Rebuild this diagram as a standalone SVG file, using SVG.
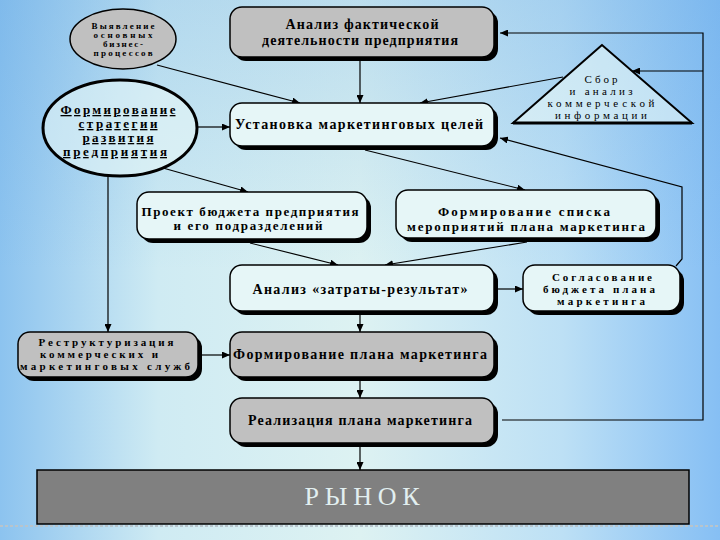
<svg xmlns="http://www.w3.org/2000/svg" width="720" height="540" viewBox="0 0 720 540">
<defs>
<linearGradient id="bg" x1="0" y1="0" x2="1" y2="0">
<stop offset="0" stop-color="#8cc3ef"/>
<stop offset="0.22" stop-color="#cfebf3"/>
<stop offset="0.5" stop-color="#ddf2f2"/>
<stop offset="0.78" stop-color="#bde0f5"/>
<stop offset="1" stop-color="#86bff4"/>
</linearGradient>
<linearGradient id="bgv" x1="0" y1="0" x2="0" y2="1">
<stop offset="0" stop-color="#5aa0e0" stop-opacity="0.25"/>
<stop offset="0.5" stop-color="#5aa0e0" stop-opacity="0"/>
<stop offset="1" stop-color="#5aa0e0" stop-opacity="0"/>
</linearGradient>
<marker id="arr" markerWidth="8" markerHeight="7" refX="8" refY="3.5" orient="auto" markerUnits="userSpaceOnUse">
<path d="M0,0 L8,3.5 L0,7 z" fill="#000"/>
</marker>
<style>
.sh{fill:#000}
.bx{stroke:#000;stroke-width:1.5}
.gray{fill:#c0c0c0}
.lt{fill:#e6f6f7}
.t{font-family:"Liberation Serif",serif;font-size:14px;font-weight:bold;text-anchor:middle;fill:#000}
.m{font-size:13px}
.k{font-size:11px}
.s{font-size:9px}
.u{text-decoration:underline}
.n{font-weight:normal;font-size:11px}
.c{fill:none;stroke:#000;stroke-width:1.2}
</style>
</defs>
<rect width="720" height="540" fill="url(#bg)"/>
<rect width="720" height="540" fill="url(#bgv)"/>
<line x1="0" y1="526" x2="720" y2="526" stroke="#b8c4cc" stroke-width="2" stroke-dasharray="3 2"/>

<g id="connectors">
<path class="c" d="M360,61 L360,103" marker-end="url(#arr)"/>
<path class="c" d="M157,65 L300,103" marker-end="url(#arr)"/>
<path class="c" d="M563,77 L420,103" marker-end="url(#arr)"/>
<path class="c" d="M198,127 L230,127" marker-end="url(#arr)"/>
<path class="c" d="M502,420 L703,420 L703,33 L500,33" marker-end="url(#arr)"/>
<path class="c" d="M703,71 L632,71" marker-end="url(#arr)"/>
<path class="c" d="M676,266 L682,259 L682,187 L500,138" marker-end="url(#arr)"/>
<path class="c" d="M365,150 L525,190" marker-end="url(#arr)"/>
<path class="c" d="M163,168 L248,192" marker-end="url(#arr)"/>
<path class="c" d="M108,176 L108,332" marker-end="url(#arr)"/>
<path class="c" d="M250,243 L338,265" marker-end="url(#arr)"/>
<path class="c" d="M527,242 L385,265" marker-end="url(#arr)"/>
<path class="c" d="M498,289 L523,289" marker-end="url(#arr)"/>
<path class="c" d="M360,315 L360,332" marker-end="url(#arr)"/>
<path class="c" d="M202,355 L230,355" marker-end="url(#arr)"/>
<path class="c" d="M360,381 L360,398" marker-end="url(#arr)"/>
<path class="c" d="M360,447 L360,470" marker-end="url(#arr)"/>
</g>

<g id="vyyavlenie">
<ellipse cx="123" cy="39" rx="53" ry="30" class="bx gray"/>
<text class="t s" x="123" y="29" textLength="63" lengthAdjust="spacing">Выявление</text>
<text class="t s" x="123" y="38" textLength="59" lengthAdjust="spacing">основных</text>
<text class="t s" x="123" y="47" textLength="40" lengthAdjust="spacing">бизнес-</text>
<text class="t s" x="123" y="56" textLength="59" lengthAdjust="spacing">процессов</text>
</g>

<g id="strategiya">
<ellipse cx="120" cy="128" rx="77" ry="48" fill="#e6f6f7" fill-opacity="0.6" stroke="#000" stroke-width="3"/>
<text class="t m u" x="118" y="114" textLength="115" lengthAdjust="spacing">Формирование</text>
<text class="t m u" x="118" y="128" textLength="79" lengthAdjust="spacing">стратегии</text>
<text class="t m u" x="118" y="142" textLength="71" lengthAdjust="spacing">развития</text>
<text class="t m u" x="115" y="156" textLength="104" lengthAdjust="spacing">предприятия</text>
</g>

<g id="analiz-fakt">
<rect x="234" y="11" width="264" height="50" rx="12" class="sh"/>
<rect x="230" y="7" width="264" height="50" rx="12" class="bx gray"/>
<text class="t" x="362" y="29" textLength="153" lengthAdjust="spacing">Анализ фактической</text>
<text class="t" x="360" y="45" textLength="196" lengthAdjust="spacing">деятельности предприятия</text>
</g>

<g id="ustanovka">
<rect x="234" y="107" width="264" height="43" rx="12" class="sh"/>
<rect x="230" y="103" width="264" height="43" rx="12" class="bx lt"/>
<text class="t" x="359" y="129" textLength="248" lengthAdjust="spacing">Установка маркетинговых целей</text>
</g>

<g id="sbor">
<polygon points="602,45 513,123 692,123" fill="#e6f6f7" fill-opacity="0.6" stroke="#000" stroke-width="2"/>
<line x1="513" y1="123" x2="692" y2="123" stroke="#000" stroke-width="3"/>
<text class="t n" x="601" y="83" textLength="33" lengthAdjust="spacing">Сбор</text>
<text class="t n" x="601" y="95" textLength="63" lengthAdjust="spacing">и анализ</text>
<text class="t n" x="601" y="107" textLength="107" lengthAdjust="spacing">коммерческой</text>
<text class="t n" x="601" y="119" textLength="92" lengthAdjust="spacing">информации</text>
</g>

<g id="proekt">
<rect x="141" y="196" width="230" height="47" rx="12" class="sh"/>
<rect x="137" y="192" width="230" height="47" rx="12" class="bx lt"/>
<text class="t m" x="250" y="216" textLength="217" lengthAdjust="spacing">Проект бюджета предприятия</text>
<text class="t m" x="248" y="230" textLength="149" lengthAdjust="spacing">и его подразделений</text>
</g>

<g id="spisok">
<rect x="400" y="194" width="260" height="48" rx="12" class="sh"/>
<rect x="396" y="190" width="260" height="48" rx="12" class="bx lt"/>
<text class="t m" x="524" y="216" textLength="172" lengthAdjust="spacing">Формирование списка</text>
<text class="t m" x="526" y="231" textLength="238" lengthAdjust="spacing">мероприятий плана маркетинга</text>
</g>

<g id="zatraty">
<rect x="234" y="269" width="264" height="46" rx="12" class="sh"/>
<rect x="230" y="265" width="264" height="46" rx="12" class="bx lt"/>
<text class="t" x="360" y="294" textLength="215" lengthAdjust="spacing">Анализ «затраты-результат»</text>
</g>

<g id="soglasovanie">
<rect x="527" y="269" width="157" height="46" rx="12" class="sh"/>
<rect x="523" y="265" width="157" height="46" rx="12" class="bx lt"/>
<text class="t k" x="602" y="281" textLength="100" lengthAdjust="spacing">Согласование</text>
<text class="t k" x="599" y="293" textLength="112" lengthAdjust="spacing">бюджета плана</text>
<text class="t k" x="601" y="305" textLength="88" lengthAdjust="spacing">маркетинга</text>
</g>

<g id="restrukt">
<rect x="22" y="336" width="180" height="45" rx="12" class="sh"/>
<rect x="18" y="332" width="180" height="45" rx="12" class="bx gray"/>
<text class="t k" x="106" y="346" textLength="135" lengthAdjust="spacing">Реструктуризация</text>
<text class="t k" x="99" y="358" textLength="118" lengthAdjust="spacing">коммерческих и</text>
<text class="t k" x="105" y="370" textLength="170" lengthAdjust="spacing">маркетинговых служб</text>
</g>

<g id="formirovanie-plana">
<rect x="234" y="336" width="264" height="45" rx="12" class="sh"/>
<rect x="230" y="332" width="264" height="45" rx="12" class="bx gray"/>
<text class="t" x="360" y="359" textLength="254" lengthAdjust="spacing">Формирование плана маркетинга</text>
</g>

<g id="realizaciya">
<rect x="234" y="402" width="264" height="45" rx="12" class="sh"/>
<rect x="230" y="398" width="264" height="45" rx="12" class="bx gray"/>
<text class="t" x="360" y="425" textLength="224" lengthAdjust="spacing">Реализация плана маркетинга</text>
</g>

<g id="rynok">
<rect x="37" y="470" width="652" height="54" fill="#808080" stroke="#000" stroke-width="1.5"/>
<text x="362" y="505" text-anchor="middle" font-family="Liberation Serif, serif" font-size="26" fill="#e2eff0" textLength="115" lengthAdjust="spacing">РЫНОК</text>
</g>
</svg>
